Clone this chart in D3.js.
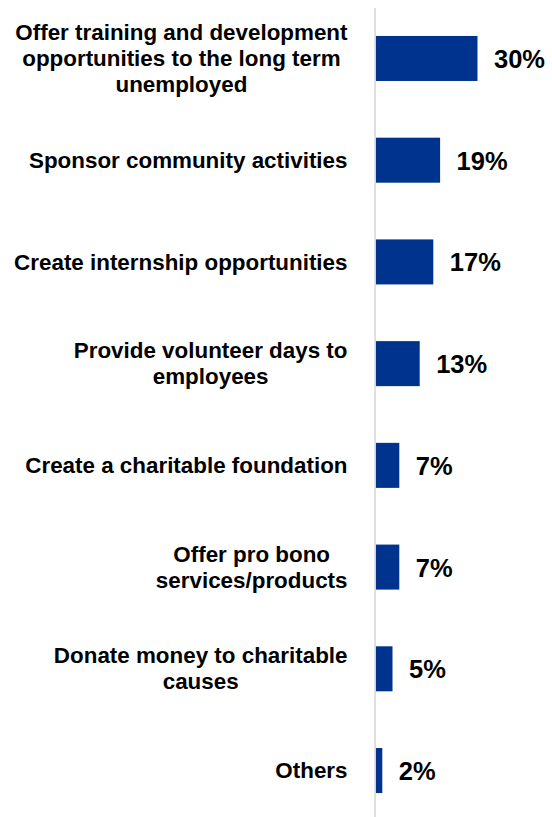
<!DOCTYPE html>
<html>
<head>
<meta charset="utf-8">
<script src="https://cdn.jsdelivr.net/npm/d3@7/dist/d3.min.js"></script>
<style>
  html, body { margin: 0; padding: 0; background: #fff; }
  svg { display: block; }
  text { font-family: "Liberation Sans", Arial, Helvetica, sans-serif; font-weight: bold; fill: #000; }
</style>
</head>
<body>
<svg id="chart" width="552" height="817"></svg>
<script>
// Share of companies by type of community initiative
const categories = [
  "Offer training and development\nopportunities to the long term\nunemployed",
  "Sponsor community activities",
  "Create internship opportunities",
  "Provide volunteer days to\nemployees",
  "Create a charitable foundation",
  "Offer pro bono\nservices/products",
  "Donate money to charitable\ncauses",
  "Others"
];
const values = [30, 19, 17, 13, 7, 7, 5, 2];
const valueLabels = ["30%", "19%", "17%", "13%", "7%", "7%", "5%", "2%"];

const width = 552, height = 817;
const axisX = 375.5;
const labelRight = 347.5;
const lineHeight = 26;

const svg = d3.select("#chart");

const x = d3.scaleLinear().domain([0, 30]).range([axisX, axisX + 102]);
const y = d3.scaleBand()
  .domain(categories)
  .range([7.6, 821.4])
  .paddingInner(0.5575)
  .paddingOuter(0.27875);

// Bars
svg.append("g")
  .selectAll("rect")
  .data(values)
  .join("rect")
  .attr("x", x(0))
  .attr("y", (d, i) => y(categories[i]))
  .attr("width", d => x(d) - x(0))
  .attr("height", y.bandwidth())
  .attr("fill", "#00338D");

// Vertical category axis line
const axisG = svg.append("g")
  .attr("transform", `translate(${axisX - 0.9},0)`)
  .call(d3.axisLeft(y).tickSize(0).tickSizeOuter(0).tickFormat(""));
axisG.select(".domain").attr("stroke", "#d9d9d9").attr("stroke-width", 1.6);
axisG.selectAll(".tick").remove();

// Category labels: block right-aligned, lines centred within block
const labelG = svg.append("g");
categories.forEach((cat, i) => {
  const lines = cat.split("\n");
  const cy = y(cat) + y.bandwidth() / 2;
  const t = labelG.append("text")
    .attr("text-anchor", "middle")
    .style("font-size", "22.4px");
  const first = cy - (lines.length - 1) * lineHeight / 2 + 7.6;
  lines.forEach((ln, j) => {
    t.append("tspan").attr("y", first + j * lineHeight).text(ln);
  });
  let maxW = 0;
  t.selectAll("tspan").each(function () {
    maxW = Math.max(maxW, this.getComputedTextLength());
  });
  t.selectAll("tspan").attr("x", labelRight - maxW / 2);
});

// Value labels
svg.append("g")
  .selectAll("text")
  .data(values)
  .join("text")
  .attr("x", d => x(d) + 16.5)
  .attr("y", (d, i) => y(categories[i]) + y.bandwidth() / 2)
  .attr("dy", "0.37em")
  .style("font-size", "25.5px")
  .text((d, i) => valueLabels[i]);
</script>
</body>
</html>
